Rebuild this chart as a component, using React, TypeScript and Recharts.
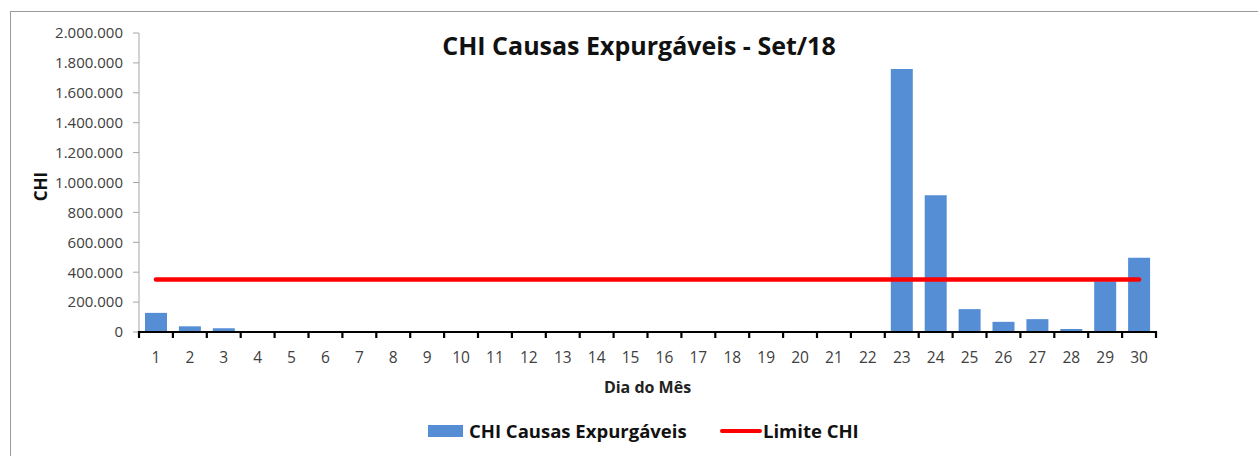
import React from 'react';
import { ComposedChart, Bar, Line, XAxis, YAxis } from 'recharts';

const days: string[] = [
  '1', '2', '3', '4', '5', '6', '7', '8', '9', '10',
  '11', '12', '13', '14', '15', '16', '17', '18', '19', '20',
  '21', '22', '23', '24', '25', '26', '27', '28', '29', '30',
];
const chiValues: number[] = [
  128000, 38000, 25000, 0, 0, 0, 0, 0, 0, 0,
  0, 0, 0, 0, 0, 0, 0, 0, 0, 0,
  0, 0, 1760000, 915000, 153000, 68000, 86000, 20000, 340000, 497000,
];
const limiteValues: number[] = days.map(() => 352000);
const yTicks: number[] = [0, 200000, 400000, 600000, 800000, 1000000, 1200000, 1400000, 1600000, 1800000, 2000000];

const seriesBarName = 'CHI Causas Expurgáveis';
const seriesLineName = 'Limite CHI';

const data = days.map((d, i) => ({ dia: d, chi: chiValues[i], limite: limiteValues[i] }));

const FONT = '"Open Sans", "Noto Sans", sans-serif';
const BAR_COLOR = '#558ED5';
const LINE_COLOR = '#FF0000';

const fmt = (v: number) => String(v).replace(/\B(?=(\d{3})+(?!\d))/g, '.');

const W = 1258;
const H = 456;
const PLOT_LEFT = 139;
const PLOT_RIGHT = 1156;
const STEP = (PLOT_RIGHT - PLOT_LEFT) / days.length;

const XTick = (props: any) => {
  const { x, y, payload, index } = props;
  const half = payload && payload.offset ? payload.offset : STEP / 2;
  return (
    <g>
      <line x1={x - half} y1={y - 1} x2={x - half} y2={y + 6} stroke="#000" strokeWidth={2.2} />
      {index === days.length - 1 && (
        <line x1={x + half} y1={y - 1} x2={x + half} y2={y + 6} stroke="#000" strokeWidth={2.2} />
      )}
      <text x={x} y={y + 31} textAnchor="middle" fontFamily={FONT} fontSize={15.5} fill="#404040">
        {payload.value}
      </text>
    </g>
  );
};

export default function App() {
  return (
    <div style={{ position: 'absolute', left: 0, top: 0, width: W, height: H, overflow: 'hidden', background: '#fff' }}>
      <div
        style={{
          position: 'absolute', left: 10, top: 11, width: 1400, height: 600,
          borderLeft: '1.5px solid #9a9a9a', borderTop: '1.5px solid #9a9a9a',
        }}
      />
      <div
        style={{
          position: 'absolute', left: 239, width: 800, top: 28, textAlign: 'center',
          fontFamily: FONT, fontWeight: 700, fontSize: 25, color: '#111', lineHeight: '34px',
        }}
      >
        CHI Causas Expurgáveis - Set/18
      </div>
      <div style={{ position: 'absolute', left: 0, top: 0 }}>
        <ComposedChart width={W} height={H} data={data} margin={{ top: 33, right: W - PLOT_RIGHT, bottom: 0, left: 0 }}>
          <XAxis
            dataKey="dia"
            height={H - 332 - 0}
            axisLine={{ stroke: '#000', strokeWidth: 2.2 }}
            tickLine={false}
            tickSize={0}
            tickMargin={0}
            interval={0}
            tick={<XTick />}
            label={{
              content: (p: any) => {
                const vb = p.viewBox || { x: PLOT_LEFT, width: PLOT_RIGHT - PLOT_LEFT, y: 332 };
                return (
                  <text x={vb.x + vb.width / 2} y={vb.y + 61} textAnchor="middle" fontFamily={FONT} fontWeight={700} fontSize={16} fill="#222">
                    Dia do Mês
                  </text>
                );
              },
            }}
          />
          <YAxis
            width={PLOT_LEFT}
            domain={[0, 2000000]}
            ticks={yTicks}
            interval={0}
            tickFormatter={fmt}
            axisLine={{ stroke: '#a6a6a6', strokeWidth: 1 }}
            tickLine={{ stroke: '#a6a6a6' }}
            tickSize={6}
            tickMargin={10}
            tick={{ fontFamily: FONT, fontSize: 15, fill: '#404040' }}
            label={{
              content: (p: any) => {
                const vb = p.viewBox || { x: 0, y: 33, height: 299 };
                const cx = 40;
                const cy = vb.y + vb.height / 2 + 4;
                return (
                  <text x={cx} y={cy} transform={`rotate(-90, ${cx}, ${cy})`} textAnchor="middle" dominantBaseline="central" fontFamily={FONT} fontWeight={700} fontSize={17} fill="#111">
                    CHI
                  </text>
                );
              },
            }}
          />
          <Bar dataKey="chi" name={seriesBarName} fill={BAR_COLOR} barSize={22} isAnimationActive={false} />
          <Line
            dataKey="limite"
            name={seriesLineName}
            type="linear"
            stroke={LINE_COLOR}
            strokeWidth={4.5}
            strokeLinecap="round"
            dot={false}
            activeDot={false}
            isAnimationActive={false}
          />
        </ComposedChart>
      </div>
      <div style={{ position: 'absolute', left: 428, top: 425, width: 35, height: 12, background: BAR_COLOR }} />
      <div
        style={{
          position: 'absolute', left: 469, top: 417, fontFamily: FONT, fontWeight: 700, fontSize: 18.5,
          color: '#111', lineHeight: '28px', whiteSpace: 'nowrap',
        }}
      >
        {seriesBarName}
      </div>
      <div style={{ position: 'absolute', left: 720, top: 429, width: 42, height: 4, background: LINE_COLOR, borderRadius: 2 }} />
      <div
        style={{
          position: 'absolute', left: 763, top: 417, fontFamily: FONT, fontWeight: 700, fontSize: 18.5,
          color: '#111', lineHeight: '28px', whiteSpace: 'nowrap',
        }}
      >
        {seriesLineName}
      </div>
    </div>
  );
}
